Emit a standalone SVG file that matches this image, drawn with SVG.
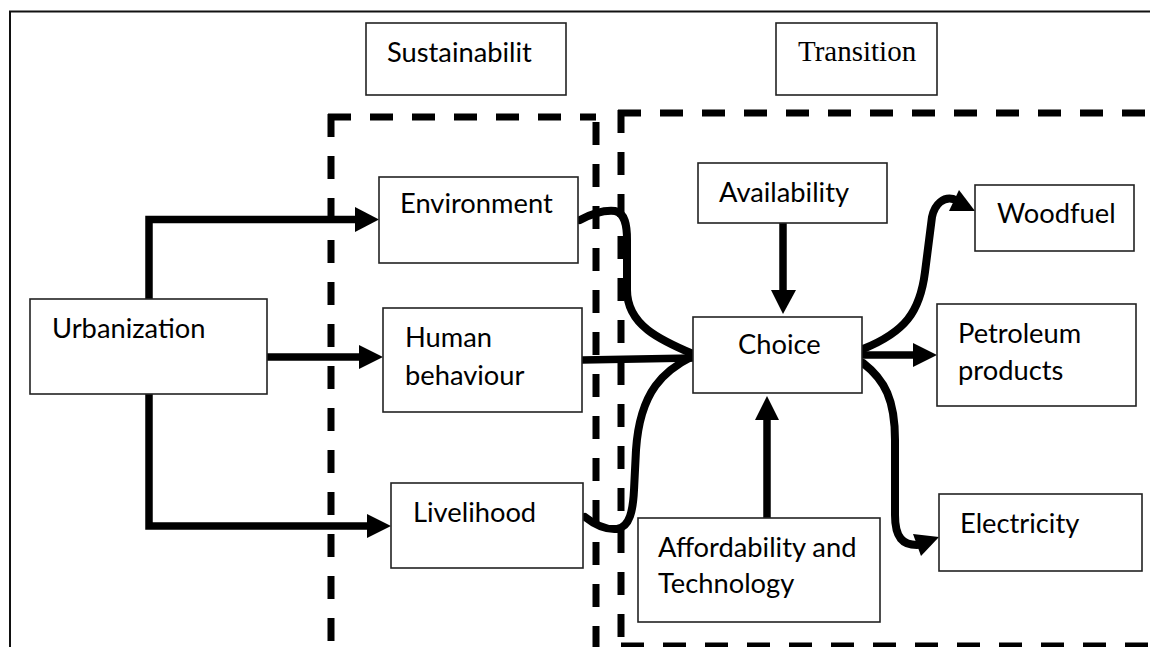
<svg xmlns="http://www.w3.org/2000/svg" width="1150" height="647" viewBox="0 0 1150 647">
<style>
.box{fill:#fff;stroke:#222;stroke-width:1.6}
.t{font-family:Lato,"Open Sans",sans-serif;font-size:27.3px;fill:#000}
.ts{font-family:"Liberation Serif",serif;font-size:29px;fill:#000}
.dash{fill:none;stroke:#000;stroke-width:7;stroke-dasharray:23 19}
.c{fill:none;stroke:#000;stroke-width:7.5}
.cv{fill:none;stroke:#000;stroke-width:8;stroke-linecap:round}
.h{fill:#000}
</style>
<rect width="1150" height="647" fill="#fff"/>
<path d="M10 647 L10 11.5 L1150 11.5" fill="none" stroke="#111" stroke-width="2"/>
<g id="regions">
<path class="dash" d="M331 114 L331 647"/>
<path class="dash" d="M328 117 L596 117"/>
<path class="dash" d="M596 122 L596 647"/>
<path class="dash" d="M618 113 L1150 113"/>
<path class="dash" d="M621 110 L621 647"/>
<path class="dash" d="M621 646 L1150 646"/>
</g>
<g id="connectors">
<path class="c" d="M149 299 L149 219.5 L356 219.5"/>
<polygon class="h" points="355,207 379,219.5 355,232"/>
<path class="c" d="M267 357 L360 357"/>
<polygon class="h" points="359,345 383,357 359,369"/>
<path class="c" d="M149 394 L149 526 L368 526"/>
<polygon class="h" points="367,514 391,526 367,538"/>
<path class="cv" d="M580 220 C595 212 605 210 615 211 C625 213 627 225 627 240 L627 290 C627 325 660 340 693 354"/>
<path class="c" d="M582 360 L693 358"/>
<path class="cv" d="M585 517 C595 525 605 530 617 529 C630 527 633 510 634 490 L636 450 C640 390 665 370 693 356"/>
<path class="c" d="M783 223 L783 291"/>
<polygon class="h" points="771,290 796,290 783,314"/>
<path class="c" d="M767 518 L767 419"/>
<polygon class="h" points="755,420 779,420 767,396"/>
<path class="cv" d="M863 349 C905 332 920 312 925 272 L932 217 C935 203 944 197 953 199"/>
<polygon class="h" points="959,190 975,211 949,211"/>
<path class="c" d="M862 355 L914 355"/>
<polygon class="h" points="913,343 937,355 913,367"/>
<path class="cv" d="M863 363 C885 380 895 400 895 440 L895 515 C895 538 903 545 917 545"/>
<polygon class="h" points="913,534 939,537 921,556"/>
</g>
<g id="sustainability"><rect class="box" x="366" y="23" width="200" height="72"/><text class="t" x="387" y="62">Sustainabilit</text></g>
<g id="transition"><rect class="box" x="776" y="23" width="161" height="72"/><text class="ts" x="798" y="61">Transition</text></g>
<g id="urbanization"><rect class="box" x="30" y="299" width="237" height="95"/><text class="t" x="52" y="338">Urbanization</text></g>
<g id="environment"><rect class="box" x="379" y="177" width="199" height="86"/><text class="t" x="400" y="213">Environment</text></g>
<g id="human-behaviour"><rect class="box" x="383" y="308" width="199" height="104"/><text class="t" x="405" y="347">Human</text><text class="t" x="405" y="385">behaviour</text></g>
<g id="livelihood"><rect class="box" x="391" y="483" width="192" height="85"/><text class="t" x="413" y="522">Livelihood</text></g>
<g id="availability"><rect class="box" x="698" y="163" width="189" height="60"/><text class="t" x="719" y="202">Availability</text></g>
<g id="choice"><rect class="box" x="693" y="317" width="169" height="76"/><text class="t" x="738" y="354">Choice</text></g>
<g id="affordability"><rect class="box" x="638" y="518" width="242" height="104"/><text class="t" x="658" y="557">Affordability and</text><text class="t" x="658" y="593">Technology</text></g>
<g id="woodfuel"><rect class="box" x="975" y="185" width="159" height="66"/><text class="t" x="997" y="223">Woodfuel</text></g>
<g id="petroleum"><rect class="box" x="937" y="304" width="199" height="102"/><text class="t" x="958" y="343">Petroleum</text><text class="t" x="958" y="380">products</text></g>
<g id="electricity"><rect class="box" x="939" y="494" width="203" height="77"/><text class="t" x="960" y="533">Electricity</text></g>
</svg>
